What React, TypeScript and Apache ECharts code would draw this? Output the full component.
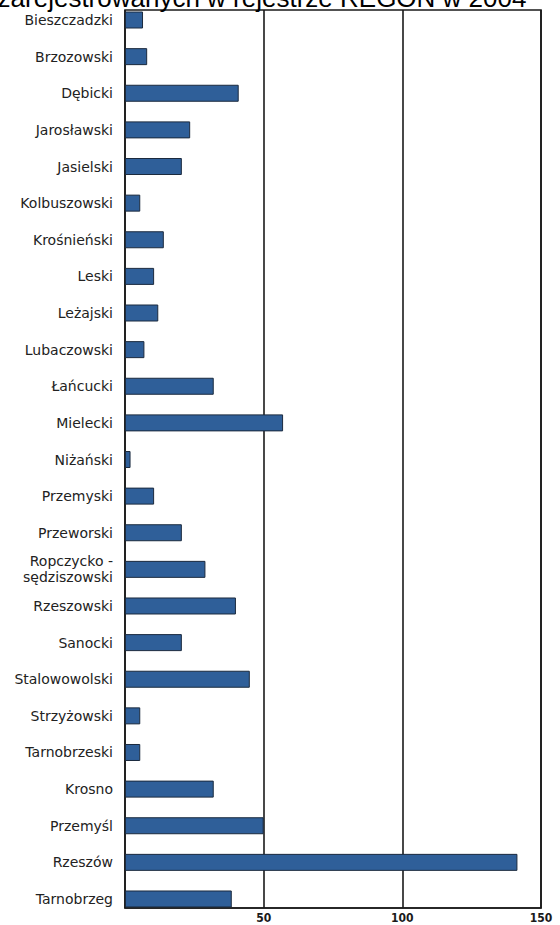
import React, { useEffect, useRef } from "react";
import * as echarts from "echarts";

const categories: string[] = [
  "Bieszczadzki",
  "Brzozowski",
  "Dębicki",
  "Jarosławski",
  "Jasielski",
  "Kolbuszowski",
  "Krośnieński",
  "Leski",
  "Leżajski",
  "Lubaczowski",
  "Łańcucki",
  "Mielecki",
  "Niżański",
  "Przemyski",
  "Przeworski",
  "Ropczycko -\nsędziszowski",
  "Rzeszowski",
  "Sanocki",
  "Stalowowolski",
  "Strzyżowski",
  "Tarnobrzeski",
  "Krosno",
  "Przemyśl",
  "Rzeszów",
  "Tarnobrzeg",
];

const values: number[] = [
  6.5, 8, 41, 23.5, 20.5, 5.5, 14, 10.5, 12, 7, 32, 57, 2, 10.5, 20.5, 29, 40,
  20.5, 45, 5.5, 5.5, 32, 50, 141.5, 38.5,
];

const xTicks: number[] = [0, 50, 100, 150];

const titleText = "zarejestrowanych w rejestrze REGON w 2004";

export default function App() {
  const ref = useRef<HTMLDivElement>(null);

  useEffect(() => {
    document.body.style.margin = "0";
    if (!ref.current) return;
    const chart = echarts.init(ref.current, undefined, { renderer: "svg" });
    const left = 125;
    const right = 19;
    chart.setOption({
      animation: false,
      backgroundColor: "#ffffff",
      graphic: [
        {
          type: "text",
          x: 262,
          y: -2,
          z: 10,
          style: {
            text: titleText,
            font: '26px "Liberation Sans", Arial, sans-serif',
            fill: "#000",
            textAlign: "center",
            textVerticalAlign: "middle",
          },
        },
      ],
      grid: [
        {
          left,
          right,
          top: 1.7,
          bottom: 7.7,
          containLabel: false,
        },
        {
          left,
          right,
          top: 10,
          bottom: 17,
          show: true,
          borderColor: "#1a1a1a",
          borderWidth: 1.6,
          backgroundColor: "transparent",
          containLabel: false,
        },
      ],
      xAxis: [
        {
          gridIndex: 0,
          type: "value",
          min: 0,
          max: 150,
          show: false,
        },
        {
          gridIndex: 1,
          type: "value",
          min: xTicks[0],
          max: xTicks[xTicks.length - 1],
          interval: 50,
          axisLine: { show: true, lineStyle: { color: "#1a1a1a", width: 1.6 } },
          axisTick: { show: false },
          splitLine: { show: true, lineStyle: { color: "#1a1a1a", width: 1.6 } },
          axisLabel: {
            showMinLabel: false,
            margin: 4,
            color: "#1a1a1a",
            fontFamily: '"DejaVu Sans Condensed", "DejaVu Sans", sans-serif',
            fontWeight: "bold",
            fontSize: 12,
          },
        },
      ],
      yAxis: [
        {
          gridIndex: 0,
          type: "category",
          inverse: true,
          data: categories,
          axisLine: { show: false },
          axisTick: { show: false },
          splitLine: { show: false },
          axisLabel: {
            margin: 12,
            color: "#222",
            fontFamily: '"DejaVu Sans", sans-serif',
            fontSize: 14,
            lineHeight: 16,
          },
        },
        {
          gridIndex: 1,
          type: "value",
          min: 0,
          max: 1,
          show: false,
        },
      ],
      series: [
        {
          type: "bar",
          xAxisIndex: 0,
          yAxisIndex: 0,
          data: values,
          barWidth: 17,
          itemStyle: {
            color: "#2f5f99",
            borderColor: "#1b2a3e",
            borderWidth: 1,
          },
        },
      ],
    });
    return () => chart.dispose();
  }, []);

  return <div ref={ref} style={{ width: 560, height: 925 }} />;
}
